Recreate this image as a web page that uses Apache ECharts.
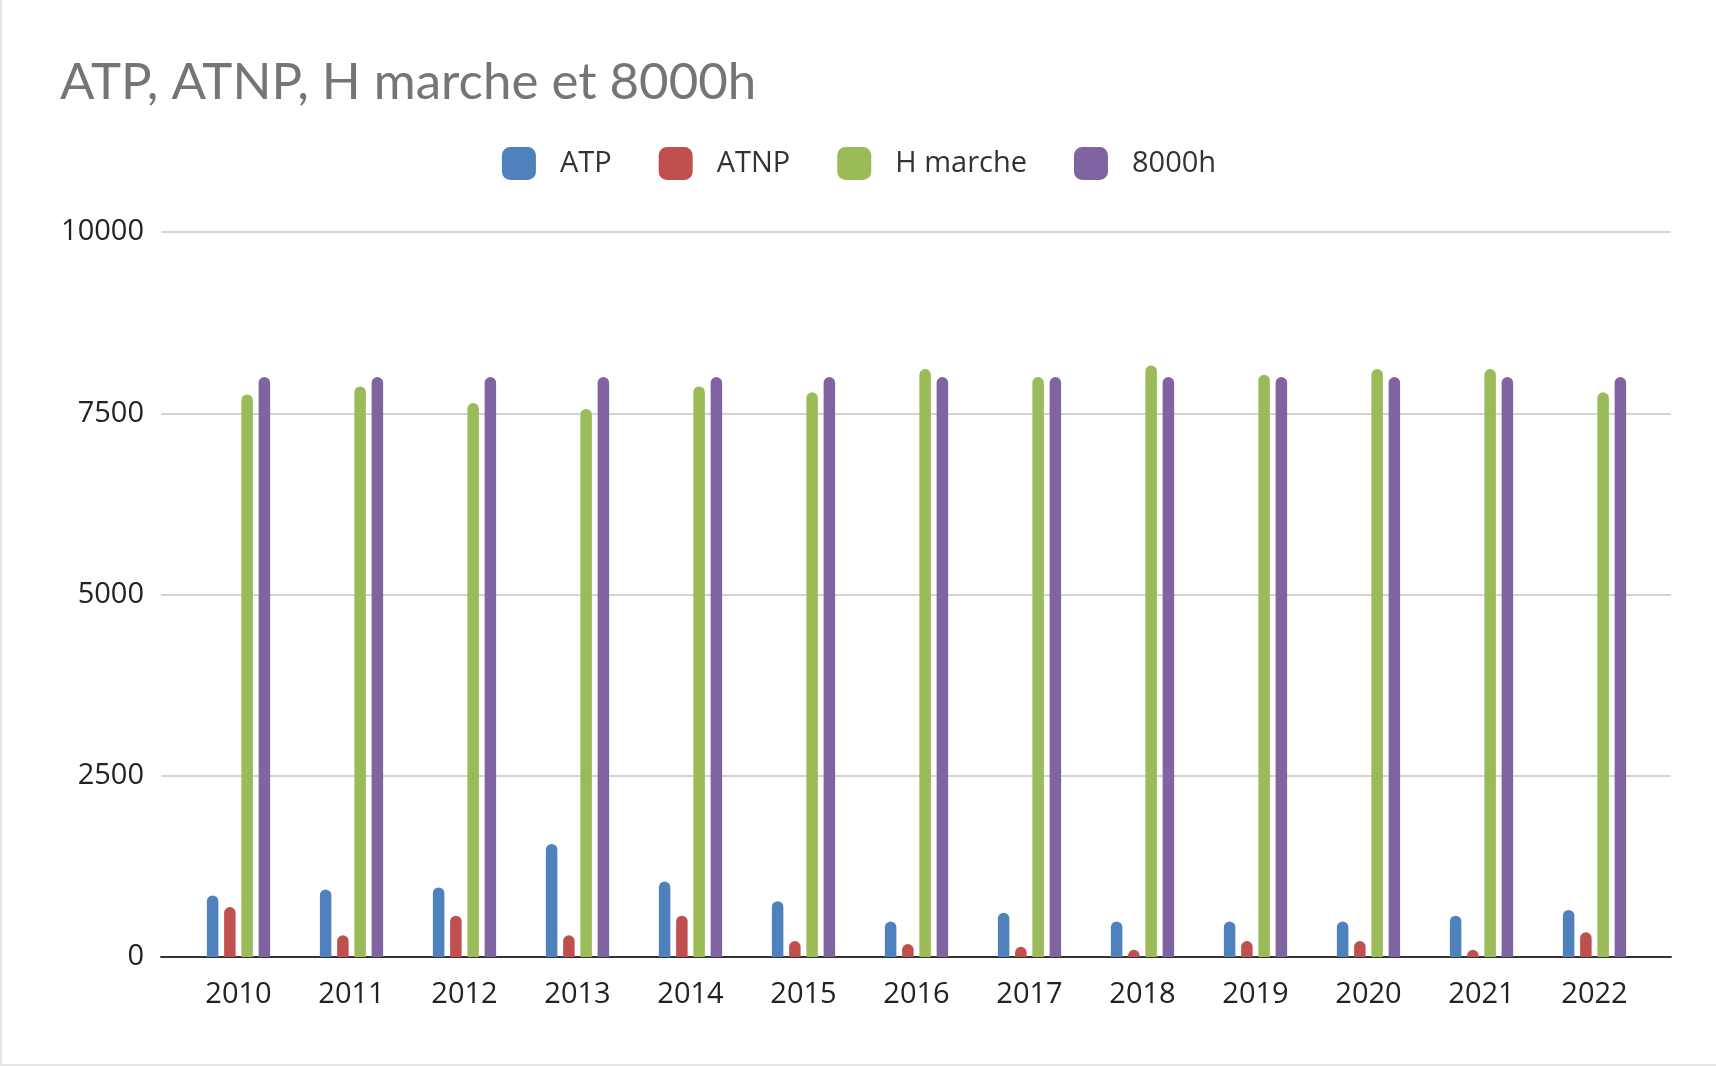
<!DOCTYPE html>
<html>
<head>
<meta charset="utf-8">
<script src="https://cdn.jsdelivr.net/npm/echarts@6/dist/echarts.min.js"></script>
<style>
    html, body { margin: 0; padding: 0; background: #fff; }
    #main { width: 1716px; height: 1066px; box-sizing: border-box; border-left: 2px solid #e6e6e6; border-bottom: 2px solid #e6e6e6; }
</style>
</head>
<body>
<div id="main"></div>
<script>
    // données
    const years = ['2010', '2011', '2012', '2013', '2014', '2015', '2016', '2017', '2018', '2019', '2020', '2021', '2022'];
    const atp = [850, 930, 960, 1560, 1040, 770, 490, 610, 490, 490, 490, 570, 650];
    const atnp = [690, 300, 570, 300, 570, 220, 180, 140, 100, 220, 220, 100, 340];
    const hMarche = [7760, 7870, 7640, 7560, 7870, 7790, 8110, 8000, 8160, 8030, 8110, 8110, 7790];
    const h8000 = [8000, 8000, 8000, 8000, 8000, 8000, 8000, 8000, 8000, 8000, 8000, 8000, 8000];
    const yTicks = [0, 2500, 5000, 7500, 10000];

    const seriesNames = ['ATP', 'ATNP', 'H marche', '8000h'];
    const seriesData = [atp, atnp, hMarche, h8000];
    const colors = ['#4F81BD', '#C0504D', '#9BBB59', '#8064A2'];

    let myChart = echarts.init(document.getElementById('main'));

    let option = {
        color: colors,
        animation: false,
        title: {
            text: 'ATP, ATNP, H marche et 8000h',
            left: 53,
            top: 52,
            textStyle: {
                fontFamily: 'Lato',
                fontSize: 51,
                fontWeight: 'normal',
                color: '#757575'
            }
        },
        legend: {
            data: seriesNames,
            top: 142,
            left: 'center',
            itemWidth: 34,
            itemHeight: 33,
            itemGap: 47,
            icon: 'roundRect',
            textStyle: {
                fontFamily: 'Open Sans',
                fontSize: 29,
                color: '#333',
                padding: [0, 0, 0, 19]
            }
        },
        grid: [
            // grille pour les lignes de fond et l'axe
            { left: 159, right: 45, top: 232, bottom: 107 },
            // grille pour les barres
            { left: 180, right: 65, top: 232, bottom: 107 }
        ],
        xAxis: [
            {
                type: 'category',
                gridIndex: 0,
                data: years,
                axisLine: { lineStyle: { color: '#333', width: 2 } },
                axisTick: { show: false },
                axisLabel: { show: false }
            },
            {
                type: 'category',
                gridIndex: 1,
                data: years,
                axisLine: { show: false },
                axisTick: { show: false },
                axisLabel: {
                    fontFamily: 'Open Sans',
                    fontSize: 29,
                    color: '#222',
                    margin: 23
                }
            }
        ],
        yAxis: [
            {
                type: 'value',
                gridIndex: 0,
                min: yTicks[0],
                max: yTicks[yTicks.length - 1],
                interval: 2500,
                axisLine: { show: false },
                axisTick: { show: false },
                splitLine: { lineStyle: { color: '#d3d3d3', width: 2 } },
                axisLabel: {
                    fontFamily: 'Open Sans',
                    fontSize: 29,
                    color: '#222',
                    margin: 17,
                    formatter: v => String(v)
                }
            },
            {
                type: 'value',
                gridIndex: 1,
                min: yTicks[0],
                max: yTicks[yTicks.length - 1],
                show: false
            }
        ],
        series: seriesNames.map((name, i) => ({
            name: name,
            type: 'bar',
            xAxisIndex: 1,
            yAxisIndex: 1,
            barWidth: 11.5,
            barGap: '50%',
            itemStyle: { borderRadius: [6, 6, 0, 0] },
            data: seriesData[i]
        }))
    };

    myChart.setOption(option);
</script>
</body>
</html>
